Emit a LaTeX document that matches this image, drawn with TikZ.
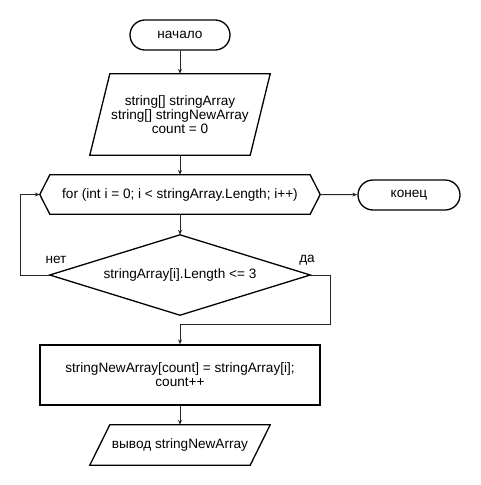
\documentclass[tikz,border=0pt]{standalone}
\usepackage{fontspec}
\setmainfont{Liberation Sans}
\usetikzlibrary{arrows.meta}

\begin{document}
\begin{tikzpicture}[x=1pt,y=-1pt,>={Stealth[length=5pt,width=4pt]},
    every node/.style={font=\fontsize{13.6}{14}\selectfont,align=center,inner sep=0pt},
    term/.style={draw,line width=1.3pt,rounded corners=15pt,minimum width=100pt,minimum height=30pt},
    outline/.style={line width=1.3pt},
    proc/.style={draw,line width=1.3pt,minimum width=280pt,minimum height=60pt},
    flow/.style={line width=1pt,black!85}]
    \useasboundingbox (0,0) rectangle (480,485);
    % blocks with absolute coordinates
    \node[term] (start) at (180,35) {начало};
    \node[minimum width=180pt,minimum height=81pt] (init) at (180,114.5)
        {string[] stringArray\\string[] stringNewArray\\count = 0};
    \draw[outline] ([xshift=20pt]init.north west) -- (init.north east)
        -- ([xshift=-20pt]init.south east) -- (init.south west) -- cycle;
    \node[minimum width=280pt,minimum height=39pt] (loop) at (180,194.5)
        {for (int i = 0; i < stringArray.Length; i++)};
    \draw[outline] (loop.west) -- ([xshift=10pt]loop.north west) -- ([xshift=-10pt]loop.north east)
        -- (loop.east) -- ([xshift=-10pt]loop.south east) -- ([xshift=10pt]loop.south west) -- cycle;
    \node[term,minimum width=102pt] (finish) at (409,195) {конец};
    \node[minimum width=260pt,minimum height=80pt] (cond) at (180,275) {stringArray[i].Length <= 3};
    \draw[outline] (cond.north) -- (cond.east) -- (cond.south) -- (cond.west) -- cycle;
    \node[proc] (body) at (180,375) {stringNewArray[count] = stringArray[i];\\count++};
    \node[minimum width=180pt,minimum height=40pt] (output) at (180,445) {вывод stringNewArray};
    \draw[outline] ([xshift=20pt]output.north west) -- (output.north east)
        -- ([xshift=-20pt]output.south east) -- (output.south west) -- cycle;
    % labels
    \node (no) at (56,260) {нет};
    \node (yes) at (307,260) {да};
    % turns
    \coordinate (back) at (20,194.5);
    \coordinate (down) at (330,324);
    \path[->,flow] (start) edge (init);
    \path[->,flow] (init) edge (loop);
    \path[->,flow] (loop.east) edge (finish);
    \path[->,flow] (loop) edge (cond);
    \draw[->,flow] (cond.west) -| (back) -- (loop.west);
    \draw[->,flow] (cond.east) -| (down) -| (body.north);
    \path[->,flow] (body) edge (output);
\end{tikzpicture}
\end{document}
